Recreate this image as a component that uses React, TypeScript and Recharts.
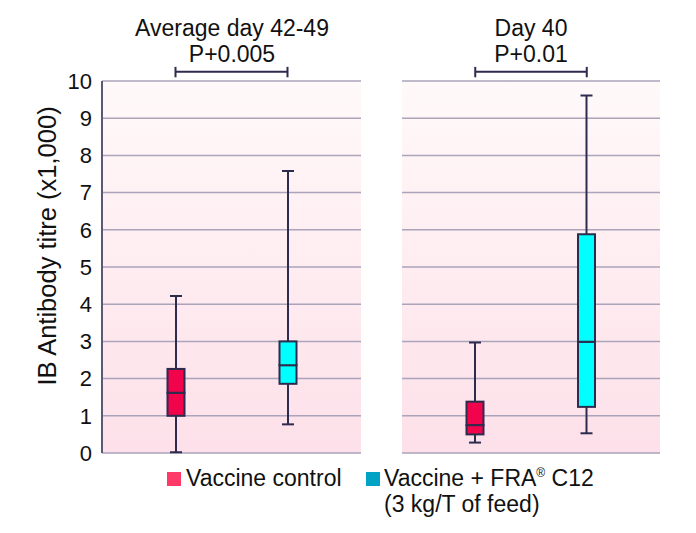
import React from 'react';
import { ComposedChart, Bar, XAxis, YAxis, CartesianGrid, ReferenceLine } from 'recharts';

// box plot stats (x1,000)
const groups = ['Control', 'FRA'];
const leftMin = [0.02, 0.77];
const leftQ1 = [1.0, 1.86];
const leftMedian = [1.62, 2.36];
const leftQ3 = [2.26, 3.0];
const leftMax = [4.22, 7.58];

const rightMin = [0.28, 0.53];
const rightQ1 = [0.5, 1.24];
const rightMedian = [0.75, 2.99];
const rightQ3 = [1.38, 5.88];
const rightMax = [2.97, 9.61];

const yTicks = [0, 1, 2, 3, 4, 5, 6, 7, 8, 9, 10];

const LINE = '#2d2b4e';
const BOX_FILL = ['#f2044d', '#00ffff'];
const FONT = '"Liberation Sans", Arial, Helvetica, sans-serif';

function buildRows(min: number[], q1: number[], med: number[], q3: number[], max: number[]) {
  return groups.map((name, i) => ({
    name,
    base: min[i],
    lowWhisker: q1[i] - min[i],
    boxLow: med[i] - q1[i],
    boxHigh: q3[i] - med[i],
    highWhisker: max[i] - q3[i],
  }));
}

const leftRows = buildRows(leftMin, leftQ1, leftMedian, leftQ3, leftMax);
const rightRows = buildRows(rightMin, rightQ1, rightMedian, rightQ3, rightMax);

const CAP = 12;

const Empty = () => null;

const LowWhisker = (p: any) => {
  const cx = p.x + p.width / 2;
  const bottom = p.y + p.height;
  return (
    <g>
      <line x1={cx} x2={cx} y1={p.y} y2={bottom} stroke={LINE} strokeWidth={2} />
      <line x1={cx - CAP / 2} x2={cx + CAP / 2} y1={bottom} y2={bottom} stroke={LINE} strokeWidth={2} />
    </g>
  );
};

const HighWhisker = (p: any) => {
  const cx = p.x + p.width / 2;
  return (
    <g>
      <line x1={cx} x2={cx} y1={p.y} y2={p.y + p.height} stroke={LINE} strokeWidth={2} />
      <line x1={cx - CAP / 2} x2={cx + CAP / 2} y1={p.y} y2={p.y} stroke={LINE} strokeWidth={2} />
    </g>
  );
};

const BoxPart = (p: any) => (
  <rect
    x={p.x + 1}
    y={p.y}
    width={p.width - 2}
    height={p.height}
    fill={BOX_FILL[p.index]}
    stroke={LINE}
    strokeWidth={2}
  />
);

function Bracket() {
  return [
    <ReferenceLine
      key="b0"
      segment={[{ x: 'Control', y: 10.25 }, { x: 'FRA', y: 10.25 }]}
      stroke={LINE}
      strokeWidth={2}
      ifOverflow="visible"
    />,
    <ReferenceLine
      key="b1"
      segment={[{ x: 'Control', y: 10.1 }, { x: 'Control', y: 10.38 }]}
      stroke={LINE}
      strokeWidth={2}
      ifOverflow="visible"
    />,
    <ReferenceLine
      key="b2"
      segment={[{ x: 'FRA', y: 10.1 }, { x: 'FRA', y: 10.38 }]}
      stroke={LINE}
      strokeWidth={2}
      ifOverflow="visible"
    />,
  ];
}

function Series() {
  return [
    <Bar key="s0" dataKey="base" stackId="a" barSize={19} shape={Empty} isAnimationActive={false} />,
    <Bar key="s1" dataKey="lowWhisker" stackId="a" barSize={19} shape={LowWhisker} isAnimationActive={false} />,
    <Bar key="s2" dataKey="boxLow" stackId="a" barSize={19} shape={BoxPart} isAnimationActive={false} />,
    <Bar key="s3" dataKey="boxHigh" stackId="a" barSize={19} shape={BoxPart} isAnimationActive={false} />,
    <Bar key="s4" dataKey="highWhisker" stackId="a" barSize={19} shape={HighWhisker} isAnimationActive={false} />,
  ];
}

const Gradient = ({ id }: { id: string }) => (
  <defs>
    <linearGradient id={id} x1="0" y1="0" x2="0" y2="1">
      <stop offset="0%" stopColor="#fff9f9" />
      <stop offset="100%" stopColor="#fde0e9" />
    </linearGradient>
  </defs>
);

const titleStyle: React.CSSProperties = {
  position: 'absolute',
  top: 15,
  textAlign: 'center',
  fontSize: 23,
  lineHeight: '26px',
  color: '#111',
};

export default function App() {
  return (
    <div style={{ position: 'fixed', left: 0, top: 0, width: 696, height: 533, background: '#fff', fontFamily: FONT }}>
      <div style={{ ...titleStyle, left: 103, width: 258 }}>
        Average day 42-49
        <br />
        P+0.005
      </div>
      <div style={{ ...titleStyle, left: 402, width: 258 }}>
        Day 40
        <br />
        P+0.01
      </div>

      <div style={{ position: 'absolute', left: 0, top: 0 }}>
        <ComposedChart width={370} height={533} data={leftRows} margin={{ top: 81, right: 9, bottom: 80, left: 0 }}>
          <Gradient id="bgLeft" />
          <CartesianGrid vertical={false} stroke="#aaa3ba" strokeWidth={1.5} fill="url(#bgLeft)" fillOpacity={1} />
          <XAxis dataKey="name" hide padding={{ left: 17.5, right: 17.5 }} />
          <YAxis
            width={102}
            domain={[0, 10]}
            ticks={yTicks}
            interval={0}
            tickLine={false}
            tickSize={0}
            tickMargin={10}
            axisLine={{ stroke: '#5c5a72', strokeWidth: 2 }}
            tick={{ fontSize: 22, fill: '#111', fontFamily: FONT }}
          />
          {Series()}
          {Bracket()}
        </ComposedChart>
      </div>

      <div style={{ position: 'absolute', left: 402, top: 0 }}>
        <ComposedChart width={258} height={533} data={rightRows} margin={{ top: 81, right: 0, bottom: 80, left: 0 }}>
          <Gradient id="bgRight" />
          <CartesianGrid vertical={false} stroke="#aaa3ba" strokeWidth={1.5} fill="url(#bgRight)" fillOpacity={1} />
          <XAxis dataKey="name" hide padding={{ left: 17.5, right: 17.5 }} />
          <YAxis hide domain={[0, 10]} ticks={yTicks} interval={0} />
          {Series()}
          {Bracket()}
        </ComposedChart>
      </div>

      <svg style={{ position: 'absolute', left: 0, top: 0 }} width={100} height={533}>
        <text
          transform="translate(47,246) rotate(-90)"
          textAnchor="middle"
          dominantBaseline="central"
          fontSize={25.5}
          fontFamily={FONT}
          fill="#111"
        >
          IB Antibody titre (x1,000)
        </text>
      </svg>

      <div style={{ position: 'absolute', left: 167, top: 472, width: 14, height: 14, background: '#ff3a68' }} />
      <div style={{ position: 'absolute', left: 186, top: 465, fontSize: 23, lineHeight: '26px', color: '#111' }}>
        Vaccine control
      </div>
      <div style={{ position: 'absolute', left: 366, top: 472, width: 14, height: 14, background: '#00a3c4' }} />
      <div style={{ position: 'absolute', left: 384, top: 465, fontSize: 23, lineHeight: '26px', color: '#111' }}>
        Vaccine + FRA<sup style={{ fontSize: 12, verticalAlign: 'top', lineHeight: '12px', position: 'relative', top: 2 }}>®</sup> C12
        <br />
        (3 kg/T of feed)
      </div>
    </div>
  );
}
